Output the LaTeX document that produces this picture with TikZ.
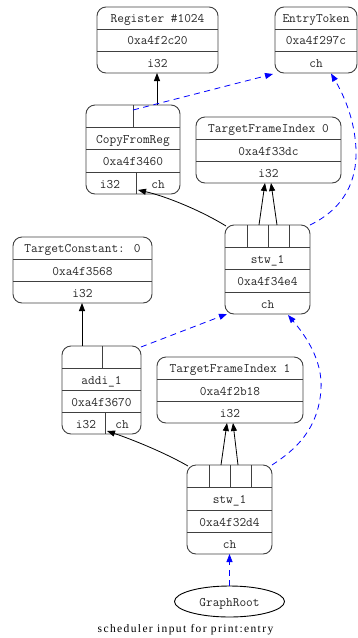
\documentclass[tikz,border=0pt]{standalone}
\usepackage{fontspec}
\setmainfont{Liberation Serif}
\usetikzlibrary{arrows.meta}
\definecolor{boxline}{gray}{0.25}
\tikzset{
  dagbox/.style={draw=boxline, rounded corners=9pt, line width=0.9pt, inner sep=0pt},
  rowsep/.style={draw=boxline, line width=0.9pt},
  lbl/.style={font=\ttfamily\fontsize{13}{14}\selectfont, text=black!85, inner sep=0pt, anchor=base},
  dep/.style={-{Triangle[length=8pt,width=6pt]}, line width=0.8pt, black},
  chain/.style={dep, draw=blue, dash pattern=on 6pt off 4.5pt},
}
\begin{document}
\begin{tikzpicture}[x=1pt,y=-1pt]
\useasboundingbox (0,0) rectangle (358,638);

% ---- Register #1024
\node[dagbox, minimum width=121pt, minimum height=66pt] (reg) at (157.5,40) {};
\draw[rowsep] (97,29) -- (218,29) (97,51.5) -- (218,51.5);
\node[lbl] (reg-a) at (157.5,22.5) {Register \#1024};
\node[lbl] (reg-b) at (157.5,44.5) {0xa4f2c20};
\node[lbl] (reg-c) at (157.5,67) {i32};

% ---- EntryToken
\node[dagbox, minimum width=82pt, minimum height=66pt] (entry) at (316,40) {};
\draw[rowsep] (275,29) -- (357,29) (275,51.5) -- (357,51.5);
\node[lbl] (entry-a) at (316,22.5) {EntryToken};
\node[lbl] (entry-b) at (316,44.5) {0xa4f297c};
\node[lbl] (entry-c) at (316,67) {ch};

% ---- CopyFromReg
\node[dagbox, minimum width=94pt, minimum height=89pt] (cfr) at (133,149.5) {};
\draw[rowsep] (86,127) -- (180,127) (86,149) -- (180,149) (86,172) -- (180,172)
  (133,105) -- (133,127) (136,172) -- (136,194);
\node[lbl] (cfr-a) at (133,143) {CopyFromReg};
\node[lbl] (cfr-b) at (133,165.5) {0xa4f3460};
\node[lbl] (cfr-c) at (110,188) {i32};
\node[lbl] (cfr-d) at (158,188) {ch};

% ---- TargetFrameIndex 0
\node[dagbox, minimum width=145pt, minimum height=66pt] (tfi0) at (268.5,150) {};
\draw[rowsep] (196,139) -- (341,139) (196,161) -- (341,161);
\node[lbl] (tfi0-a) at (268.5,132.5) {TargetFrameIndex 0};
\node[lbl] (tfi0-b) at (268.5,155) {0xa4f33dc};
\node[lbl] (tfi0-c) at (268.5,177) {i32};

% ---- stw_1 (upper)
\node[dagbox, minimum width=85pt, minimum height=89pt] (stwA) at (267.5,269.5) {};
\draw[rowsep] (225,247) -- (310,247) (225,269) -- (310,269) (225,292) -- (310,292)
  (247,225) -- (247,247) (268,225) -- (268,247) (289,225) -- (289,247);
\node[lbl] (stwA-a) at (267.5,263) {stw\_1};
\node[lbl] (stwA-b) at (267.5,285.5) {0xa4f34e4};
\node[lbl] (stwA-c) at (267.5,308) {ch};

% ---- TargetConstant: 0
\node[dagbox, minimum width=139pt, minimum height=66pt] (tc) at (82.5,270) {};
\draw[rowsep] (13,259) -- (152,259) (13,281) -- (152,281);
\node[lbl] (tc-a) at (82.5,252.5) {TargetConstant: 0};
\node[lbl] (tc-b) at (82.5,275) {0xa4f3568};
\node[lbl] (tc-c) at (82.5,297) {i32};

% ---- addi_1
\node[dagbox, minimum width=79pt, minimum height=88pt] (addi) at (101.5,390) {};
\draw[rowsep] (62,368) -- (141,368) (62,390) -- (141,390) (62,412) -- (141,412)
  (102,346) -- (102,368) (105,412) -- (105,434);
\node[lbl] (addi-a) at (101.5,384) {addi\_1};
\node[lbl] (addi-b) at (101.5,406) {0xa4f3670};
\node[lbl] (addi-c) at (86,428) {i32};
\node[lbl] (addi-d) at (122,428) {ch};

% ---- TargetFrameIndex 1
\node[dagbox, minimum width=146pt, minimum height=66pt] (tfi1) at (230,390) {};
\draw[rowsep] (157,379) -- (303,379) (157,401) -- (303,401);
\node[lbl] (tfi1-a) at (230,372.5) {TargetFrameIndex 1};
\node[lbl] (tfi1-b) at (230,395) {0xa4f2b18};
\node[lbl] (tfi1-c) at (230,417) {i32};

% ---- stw_1 (lower)
\node[dagbox, minimum width=85pt, minimum height=89pt] (stwB) at (229.5,509.5) {};
\draw[rowsep] (187,487) -- (272,487) (187,510) -- (272,510) (187,532) -- (272,532)
  (209,465) -- (209,487) (230,465) -- (230,487) (251,465) -- (251,487);
\node[lbl] (stwB-a) at (229.5,503.5) {stw\_1};
\node[lbl] (stwB-b) at (229.5,526) {0xa4f32d4};
\node[lbl] (stwB-c) at (229.5,548) {ch};

% ---- GraphRoot
\draw[line width=0.9pt] (229.5,601.5) ellipse[x radius=55pt, y radius=15.5pt];
\node[lbl] (root) at (229.5,606) {GraphRoot};
\coordinate (root-top) at (229.5,586);

% ---- caption
\node[font=\fontsize{11.5}{12}\selectfont\addfontfeature{LetterSpace=12}, inner sep=0pt, anchor=base]
  (caption) at (185.5,632.5) {scheduler input for print:entry};

% ---- operand ports and result ends
\coordinate (cfr-op0) at (133,110);
\coordinate (cfr-op1) at (157,105);
\coordinate (cfr-ch) at (138,190);
\coordinate (reg-out) at (157,73);
\coordinate (entry-in1) at (273,74);
\coordinate (entry-in2) at (331,73.5);
\coordinate (stwA-op0) at (226,226);
\coordinate (stwA-op1) at (259,225);
\coordinate (stwA-op2) at (277,225);
\coordinate (stwA-op3) at (310,225);
\coordinate (stwA-ch1) at (227,314);
\coordinate (stwA-ch2) at (288,315);
\coordinate (tfi0-out1) at (265,183);
\coordinate (tfi0-out2) at (271,183);
\coordinate (tc-out) at (82,303);
\coordinate (addi-op0) at (82,346);
\coordinate (addi-op1) at (141,347);
\coordinate (addi-ch) at (107,431);
\coordinate (tfi1-out1) at (227,423);
\coordinate (tfi1-out2) at (233,423);
\coordinate (stwB-op0) at (188,466);
\coordinate (stwB-op1) at (221,465);
\coordinate (stwB-op2) at (238,465);
\coordinate (stwB-op3) at (272,465);
\coordinate (stwB-ch) at (229.5,554);

% ---- value edges
\draw[dep] (cfr-op1) -- (reg-out);
\draw[dep] (stwA-op0) .. controls (200,210) and (165,196) .. (cfr-ch);
\draw[dep] (stwA-op1) -- (tfi0-out1);
\draw[dep] (stwA-op2) -- (tfi0-out2);
\draw[dep] (addi-op0) -- (tc-out);
\draw[dep] (stwB-op0) .. controls (160,450) and (125,437) .. (addi-ch);
\draw[dep] (stwB-op1) -- (tfi1-out1);
\draw[dep] (stwB-op2) -- (tfi1-out2);

% ---- chain edges
\draw[chain] (cfr-op0) -- (entry-in1);
\draw[chain] (stwA-op3) .. controls (345,208) and (357,180) .. (356,150)
  .. controls (355,118) and (342,92) .. (entry-in2);
\draw[chain] (addi-op1) -- (stwA-ch1);
\draw[chain] (stwB-op3) .. controls (295,450) and (318,430) .. (321,390)
  .. controls (323,360) and (305,335) .. (stwA-ch2);
\draw[chain] (root-top) -- (stwB-ch);
\end{tikzpicture}
\end{document}
